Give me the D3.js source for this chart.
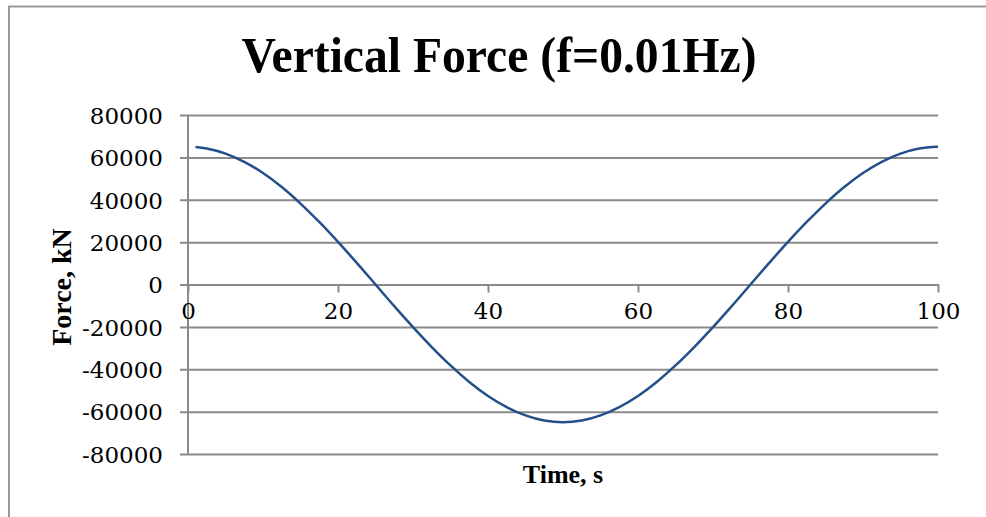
<!DOCTYPE html>
<html>
<head>
<meta charset="utf-8">
<script src="https://cdn.jsdelivr.net/npm/d3@7"></script>
<style>
  html, body { margin: 0; padding: 0; background: #fff; }
  svg { display: block; }
</style>
</head>
<body>
<svg id="chart" width="986" height="517"></svg>
<script>
// Time samples (s) and the vertical force (kN) at each
const times  = [1, 2.5, 5, 7.5, 10, 12.5, 15, 17.5, 20, 22.5, 25, 27.5, 30, 32.5, 35, 37.5, 40, 42.5, 45, 47.5,
                50, 52.5, 55, 57.5, 60, 62.5, 65, 67.5, 70, 72.5, 75, 77.5, 80, 82.5, 85, 87.5, 90, 92.5, 95, 97.5, 100];
const forces = [64870, 64200, 61800, 57900, 52600, 46000, 38200, 29500, 20100, 10200, 0,
                -10200, -20100, -29500, -38200, -46000, -52600, -57900, -61800, -64200,
                -65000, -64200, -61800, -57900, -52600, -46000, -38200, -29500, -20100, -10200, 0,
                10200, 20100, 29500, 38200, 46000, 52600, 57900, 61800, 64200, 65000];
const xTicks = [0, 20, 40, 60, 80, 100];
const yTicks = [-80000, -60000, -40000, -20000, 0, 20000, 40000, 60000, 80000];

const titleText = "Vertical Force (f=0.01Hz)";
const xLabel = "Time, s";
const yLabel = "Force, kN";

const svg = d3.select("#chart");
const gridColor = "#8a8a8a";
const lineColor = "#24508a";
const plain = d => String(d);

const x = d3.scaleLinear().domain([0, 100]).range([188, 938]);
const y = d3.scaleLinear().domain([-80000, 80000]).range([454, 115]);

// outer frame
svg.append("path")
  .attr("d", "M9,517 L9,6.5 L986,6.5")
  .attr("fill", "none")
  .attr("stroke", "#9a9a9a")
  .attr("stroke-width", 2);

// horizontal gridlines with outward ticks and labels
const yAxis = d3.axisLeft(y)
  .tickValues(yTicks)
  .tickSize(x.range()[1] - x.range()[0] + 8)
  .tickPadding(17)
  .tickFormat(plain);

const gy = svg.append("g")
  .attr("transform", `translate(${x.range()[1]},0)`)
  .call(yAxis);
gy.select(".domain").remove();
gy.selectAll(".tick line").attr("stroke", gridColor).attr("stroke-width", 2);
gy.selectAll(".tick text")
  .attr("font-family", "DejaVu Serif")
  .attr("font-size", 23)
  .attr("fill", "#000")
  .attr("dy", "0.36em");

// vertical axis line
svg.append("line")
  .attr("x1", x(0)).attr("x2", x(0))
  .attr("y1", y(80000)).attr("y2", y(-80000))
  .attr("stroke", gridColor).attr("stroke-width", 2);

// horizontal axis through zero
const xAxis = d3.axisBottom(x)
  .tickValues(xTicks)
  .tickSize(8)
  .tickPadding(14)
  .tickSizeOuter(0)
  .tickFormat(plain);

const gx = svg.append("g")
  .attr("transform", `translate(0,${y(0)})`)
  .call(xAxis);
gx.select(".domain").attr("stroke", gridColor).attr("stroke-width", 2);
gx.selectAll(".tick line").attr("stroke", gridColor).attr("stroke-width", 2);
gx.selectAll(".tick text")
  .attr("font-family", "DejaVu Serif")
  .attr("font-size", 23)
  .attr("fill", "#000")
  .attr("dy", "0.55em");

// force curve
const line = d3.line()
  .x((d, i) => x(times[i]))
  .y(d => y(d))
  .curve(d3.curveCatmullRom.alpha(0.5));

svg.append("path")
  .datum(forces)
  .attr("d", line)
  .attr("fill", "none")
  .attr("stroke", lineColor)
  .attr("stroke-width", 2.5);

// title
svg.append("text")
  .attr("x", 499)
  .attr("y", 72)
  .attr("text-anchor", "middle")
  .attr("font-family", "Liberation Serif")
  .attr("font-weight", "bold")
  .attr("font-size", 51)
  .attr("textLength", 515)
  .attr("lengthAdjust", "spacingAndGlyphs")
  .text(titleText);

// axis titles
svg.append("text")
  .attr("x", 563)
  .attr("y", 483)
  .attr("text-anchor", "middle")
  .attr("font-family", "Liberation Serif")
  .attr("font-weight", "bold")
  .attr("font-size", 26)
  .text(xLabel);

svg.append("text")
  .attr("transform", "translate(71,287) rotate(-90)")
  .attr("text-anchor", "middle")
  .attr("font-family", "Liberation Serif")
  .attr("font-weight", "bold")
  .attr("font-size", 28)
  .text(yLabel);
</script>
</body>
</html>
